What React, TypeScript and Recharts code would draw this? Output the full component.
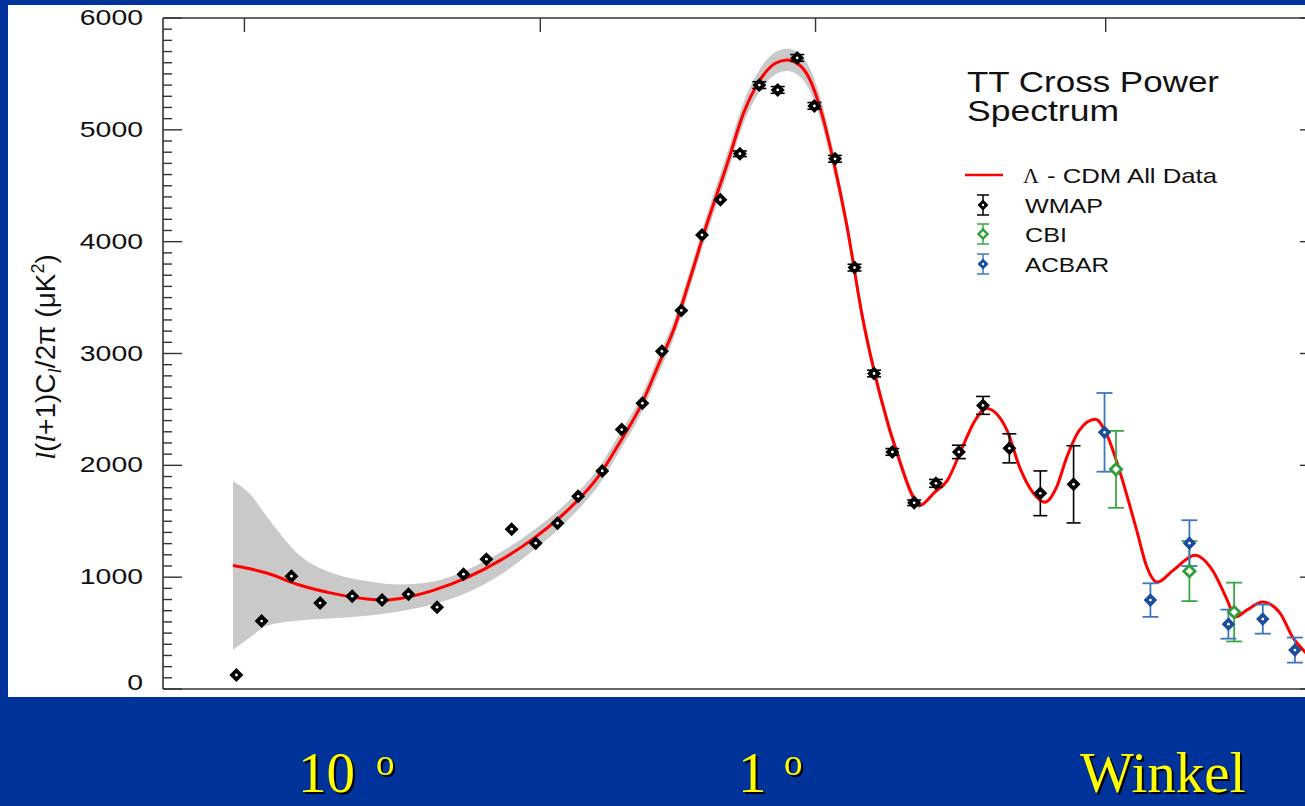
import React from 'react';
import { ComposedChart, XAxis, YAxis, Line, Area, Scatter, ErrorBar, Legend, ReferenceLine } from 'recharts';

// ---------- data (x = position along the multipole axis, 0..100.8 ; y = l(l+1)Cl/2pi in uK^2) ----------
const modelX = [6.1, 7.6, 9.1, 11.9, 14.8, 17.8, 19.4, 20.7, 23.5, 26.5, 29.4, 32.3, 35.2, 38.1, 39.8, 41.6, 43.3, 44.5, 45.9, 47.4, 49.2, 50.6, 52.0, 53.4, 54.4, 55.5, 56.4, 57.3, 58.4, 59.6, 61.0, 62.5, 64.3, 65.4, 66.0, 67.3, 68.4, 69.7, 70.8, 71.8, 73.6, 74.7, 75.9, 76.9, 77.9, 78.8, 79.9, 81.3, 82.4, 83.4, 84.9, 85.8, 86.7, 88.1, 90.0, 91.5, 92.8, 93.5, 94.5, 95.9, 97.4, 98.5, 99.6, 100.8];
const modelY = [1105, 1075, 1035, 930, 855, 805, 795, 810, 880, 995, 1150, 1345, 1590, 1920, 2200, 2520, 2920, 3205, 3650, 4150, 4696, 5143, 5437, 5595, 5625, 5580, 5450, 5196, 4750, 4161, 3321, 2640, 2018, 1720, 1643, 1760, 1866, 2161, 2400, 2509, 2313, 1982, 1750, 1670, 1800, 2071, 2313, 2411, 2250, 1955, 1420, 1089, 955, 1063, 1196, 1063, 795, 643, 705, 777, 679, 464, 330, 230];

const bandLo = [348, 463, 567, 612, 632, 655, 675, 695, 755, 860, 1020, 1240, 1500, 1840, 2125, 2445, 2840, 3125, 3570, 4065, 4605, 5050, 5340, 5495, 5525, 5480, 5350, 5100, 4660, 4080, 3250, 2580, 1965, 1675, 1600];
const bandHi = [1857, 1742, 1536, 1196, 1035, 965, 942, 935, 960, 1065, 1220, 1420, 1665, 1995, 2280, 2595, 3000, 3285, 3730, 4235, 4790, 5240, 5535, 5695, 5725, 5680, 5550, 5295, 4840, 4240, 3390, 2700, 2070, 1765, 1685];

const wmapX = [6.4, 8.6, 11.2, 13.7, 16.5, 19.1, 21.4, 23.9, 26.2, 28.2, 30.4, 32.5, 34.4, 36.2, 38.3, 40.0, 41.8, 43.5, 45.2, 47.0, 48.6, 50.3, 52.0, 53.6, 55.3, 56.8, 58.6, 60.3, 62.0, 63.6, 65.5, 67.4, 69.4, 71.5, 73.8, 76.5, 79.4];
const wmapY = [125, 607, 1009, 768, 830, 795, 848, 732, 1027, 1161, 1429, 1304, 1482, 1723, 1950, 2320, 2555, 3020, 3385, 4060, 4375, 4786, 5400, 5357, 5643, 5214, 4741, 3768, 2821, 2120, 1665, 1839, 2120, 2536, 2152, 1750, 1830];
const wmapErr = [0, 0, 0, 0, 0, 0, 0, 0, 0, 0, 0, 0, 0, 0, 0, 0, 0, 0, 0, 0, 0, 25, 30, 30, 30, 30, 30, 30, 30, 30, 25, 35, 60, 80, 130, 200, 345];

const cbiX = [83.1, 89.5, 93.4];
const cbiY = [1964, 1054, 688];
const cbiErr = [344, 268, 263];

const acbarX = [82.1, 86.1, 89.5, 92.9, 95.9, 98.7];
const acbarY = [2295, 795, 1304, 580, 625, 348];
const acbarErr = [352, 150, 205, 130, 130, 112];

const yMajorTicks = [0, 1000, 2000, 3000, 4000, 5000, 6000];
const yTickLabels = ['0', '1000', '2000', '3000', '4000', '5000', '6000'];
const topTicks = [7.1, 32.9, 56.9, 82.2];
const xDomain = [0, 100.8];
const yDomain = [0, 6000];

const legendTitle = ['TT Cross Power', 'Spectrum'];
const modelName = 'Λ - CDM All Data';
const seriesNames = ['WMAP', 'CBI', 'ACBAR'];
const slideLabels = ['10', '1', 'Winkel'];

// ---------- tables built from the arrays ----------
const yAllTicks = Array.from({ length: 61 }, (_, i) => i * 100);
const modelRows = modelX.map((x, i) => ({ x, y: modelY[i] }));
const bandRows = bandLo.map((lo, i) => ({ x: modelX[i], range: [lo, bandHi[i]] }));
const wmapRows = wmapX.map((x, i) => ({ x, y: wmapY[i], err: wmapErr[i] }));
const cbiRows = cbiX.map((x, i) => ({ x, y: cbiY[i], err: cbiErr[i] }));
const acbarRows = acbarX.map((x, i) => ({ x, y: acbarY[i], err: acbarErr[i] }));

// ---------- styling ----------
const PLOT_LEFT = 155;
const FRAME = '#333';
const SANS = '"Liberation Sans", Arial, Helvetica, sans-serif';
const SERIF = '"Liberation Serif", "Times New Roman", serif';
const C_WMAP = '#000000';
const C_CBI = '#2f9e36';
const C_CBI_BAR = '#3aa844';
const C_ACBAR = '#1b4f9c';
const C_ACBAR_BAR = '#3c78c2';
const TOP_TICK_LEN = 125; // in y units (~14 px)
const RIGHT_TICK_LEN = 1.66; // in x units (~19 px)

const LeftTick = (props: any) => {
  const { y, payload } = props;
  const v = payload.value;
  const idx = yMajorTicks.indexOf(v);
  const major = idx >= 0;
  return (
    <g>
      <line x1={PLOT_LEFT} x2={PLOT_LEFT + (major ? 19 : 9)} y1={y} y2={y} stroke={FRAME} strokeWidth={1.4} />
      {major && (
        <text
          x={135}
          y={y + (v === 0 ? 1 : 7)}
          textAnchor="end"
          fontFamily={SANS}
          fontSize={22}
          fill="#111"
          textLength={yTickLabels[idx].length * 15.8}
          lengthAdjust="spacingAndGlyphs"
        >
          {yTickLabels[idx]}
        </text>
      )}
    </g>
  );
};

const diamond = (cx: number, cy: number, h: number) =>
  `${cx},${cy - h} ${cx + h},${cy} ${cx},${cy + h} ${cx - h},${cy}`;

const WmapMarker = (p: any) => (
  <g>
    <polygon points={diamond(p.cx, p.cy, 7)} fill={C_WMAP} />
    <circle cx={p.cx} cy={p.cy} r={1.4} fill="#fff" />
  </g>
);
const AcbarMarker = (p: any) => (
  <g>
    <polygon points={diamond(p.cx, p.cy, 6.8)} fill={C_ACBAR} />
    <circle cx={p.cx} cy={p.cy} r={1.4} fill="#fff" />
  </g>
);
const CbiMarker = (p: any) => (
  <g>
    <polygon points={diamond(p.cx, p.cy, 5.6)} fill="#fff" stroke={C_CBI} strokeWidth={2.8} />
  </g>
);

const LegendIcon = ({ y, bar, fill, hollow }: any) => (
  <g>
    <line x1={43} x2={43} y1={y - 10} y2={y + 10} stroke={bar} strokeWidth={1.5} />
    <line x1={37} x2={49} y1={y - 10} y2={y - 10} stroke={bar} strokeWidth={1.5} />
    <line x1={37} x2={49} y1={y + 10} y2={y + 10} stroke={bar} strokeWidth={1.5} />
    {hollow ? (
      <polygon points={diamond(43, y, 4.5)} fill="#fff" stroke={fill} strokeWidth={2.4} />
    ) : (
      <g>
        <polygon points={diamond(43, y, 5.5)} fill={fill} />
        <circle cx={43} cy={y} r={1.2} fill="#fff" />
      </g>
    )}
  </g>
);

const renderLegend = () => (
  <svg width={300} height={240} style={{ display: 'block', overflow: 'visible' }}>
    <text x={27} y={37} fontFamily={SANS} fontSize={29} fill="#111" textLength={252} lengthAdjust="spacingAndGlyphs">
      {legendTitle[0]}
    </text>
    <text x={27} y={66} fontFamily={SANS} fontSize={29} fill="#111" textLength={152} lengthAdjust="spacingAndGlyphs">
      {legendTitle[1]}
    </text>
    <line x1={25} x2={63} y1={120} y2={120} stroke="#ff0000" strokeWidth={2.6} />
    <text x={83} y={127.5} fontFamily={SERIF} fontSize={22} fill="#111">
      {modelName.slice(0, 1)}
    </text>
    <text x={107} y={127.5} fontFamily={SANS} fontSize={21} fill="#111" textLength={170} lengthAdjust="spacingAndGlyphs">
      {modelName.slice(2)}
    </text>
    <LegendIcon y={150} bar={C_WMAP} fill={C_WMAP} />
    <LegendIcon y={179} bar={C_CBI_BAR} fill={C_CBI} hollow />
    <LegendIcon y={209} bar={C_ACBAR_BAR} fill={C_ACBAR} />
    <text x={85} y={157.5} fontFamily={SANS} fontSize={21} fill="#111" textLength={78} lengthAdjust="spacingAndGlyphs">
      {seriesNames[0]}
    </text>
    <text x={85} y={186.5} fontFamily={SANS} fontSize={21} fill="#111" textLength={42} lengthAdjust="spacingAndGlyphs">
      {seriesNames[1]}
    </text>
    <text x={85} y={216.5} fontFamily={SANS} fontSize={21} fill="#111" textLength={84} lengthAdjust="spacingAndGlyphs">
      {seriesNames[2]}
    </text>
  </svg>
);

const YTitle = () => (
  <text transform="translate(47, 352) rotate(-90)" textAnchor="middle" fontFamily={SANS} fontSize={28} fill="#111">
    <tspan fontFamily={SERIF} fontStyle="italic">l</tspan>
    <tspan>(</tspan>
    <tspan fontFamily={SERIF} fontStyle="italic">l</tspan>
    <tspan>+1)C</tspan>
    <tspan fontFamily={SERIF} fontStyle="italic" fontSize={19} dy={6}>l</tspan>
    <tspan dy={-6}>/2π (μK</tspan>
    <tspan fontSize={18} dy={-11}>2</tspan>
    <tspan dy={11}>)</tspan>
  </text>
);

const Yellow = ({ x, y, size, children }: any) => (
  <text
    x={x}
    y={y}
    fontFamily={SERIF}
    fontSize={size}
    fill="#ffff00"
    style={{ filter: 'drop-shadow(2px 2px 0 #000000)' }}
  >
    {children}
  </text>
);

export default function App() {
  const frame = { stroke: FRAME, strokeWidth: 1.6 };
  return (
    <div style={{ position: 'fixed', left: 0, top: 0, width: 1305, height: 806, background: '#003399', overflow: 'hidden' }}>
      <div style={{ position: 'absolute', left: 8, top: 5, width: 1297, height: 692, background: '#ffffff', overflow: 'hidden' }}>
        <ComposedChart width={1316} height={692} margin={{ top: 13, right: 5, bottom: 8, left: 0 }}>
          <XAxis
            dataKey="x"
            type="number"
            domain={xDomain}
            allowDataOverflow
            height={0}
            tick={false}
            tickLine={false}
            axisLine={frame}
          />
          <YAxis
            type="number"
            domain={yDomain}
            allowDataOverflow
            width={155}
            ticks={yAllTicks}
            interval={0}
            tickLine={false}
            tick={<LeftTick />}
            axisLine={frame}
            label={{ content: () => <YTitle /> }}
          />
          <Area
            data={bandRows}
            dataKey="range"
            type="monotone"
            fill="#c9c9c9"
            fillOpacity={1}
            stroke="none"
            isAnimationActive={false}
            legendType="none"
          />
          <Line
            data={modelRows}
            dataKey="y"
            type="monotone"
            stroke="#ff0000"
            strokeWidth={3}
            dot={false}
            activeDot={false}
            isAnimationActive={false}
            name={modelName}
          />
          {/* frame: top, bottom, right edges and inward ticks */}
          <ReferenceLine y={yDomain[1]} stroke={FRAME} strokeWidth={1.6} ifOverflow="visible" />
          <ReferenceLine y={yDomain[0]} stroke={FRAME} strokeWidth={1.6} ifOverflow="visible" />
          <ReferenceLine x={xDomain[1]} stroke={FRAME} strokeWidth={1.6} ifOverflow="visible" />
          {topTicks.map((t) => (
            <ReferenceLine
              key={'t' + t}
              segment={[{ x: t, y: yDomain[1] }, { x: t, y: yDomain[1] - TOP_TICK_LEN }]}
              stroke={FRAME}
              strokeWidth={1.4}
              ifOverflow="visible"
            />
          ))}
          {yMajorTicks.map((v) => (
            <ReferenceLine
              key={'r' + v}
              segment={[{ x: xDomain[1], y: v }, { x: xDomain[1] - RIGHT_TICK_LEN, y: v }]}
              stroke={FRAME}
              strokeWidth={1.4}
              ifOverflow="visible"
            />
          ))}
          <Scatter data={wmapRows} dataKey="y" name={seriesNames[0]} shape={(p: any) => <WmapMarker {...p} />} isAnimationActive={false}>
            <ErrorBar dataKey="err" direction="y" width={7} stroke={C_WMAP} strokeWidth={1.6} />
          </Scatter>
          <Scatter data={cbiRows} dataKey="y" name={seriesNames[1]} shape={(p: any) => <CbiMarker {...p} />} isAnimationActive={false}>
            <ErrorBar dataKey="err" direction="y" width={8} stroke={C_CBI_BAR} strokeWidth={1.8} />
          </Scatter>
          <Scatter data={acbarRows} dataKey="y" name={seriesNames[2]} shape={(p: any) => <AcbarMarker {...p} />} isAnimationActive={false}>
            <ErrorBar dataKey="err" direction="y" width={8} stroke={C_ACBAR_BAR} strokeWidth={1.8} />
          </Scatter>
          <Legend
            content={renderLegend}
            layout="vertical"
            align="center"
            verticalAlign="middle"
            wrapperStyle={{ position: 'absolute', left: 932, top: 50, width: 300, height: 240 }}
          />
        </ComposedChart>
      </div>
      <svg width={1305} height={109} style={{ position: 'absolute', left: 0, top: 697 }}>
        <Yellow x={298} y={95} size={57}>{slideLabels[0]}</Yellow>
        <Yellow x={376} y={78} size={37}>o</Yellow>
        <Yellow x={738} y={95} size={57}>{slideLabels[1]}</Yellow>
        <Yellow x={784} y={78} size={37}>o</Yellow>
        <Yellow x={1080} y={95} size={57}>{slideLabels[2]}</Yellow>
      </svg>
    </div>
  );
}
